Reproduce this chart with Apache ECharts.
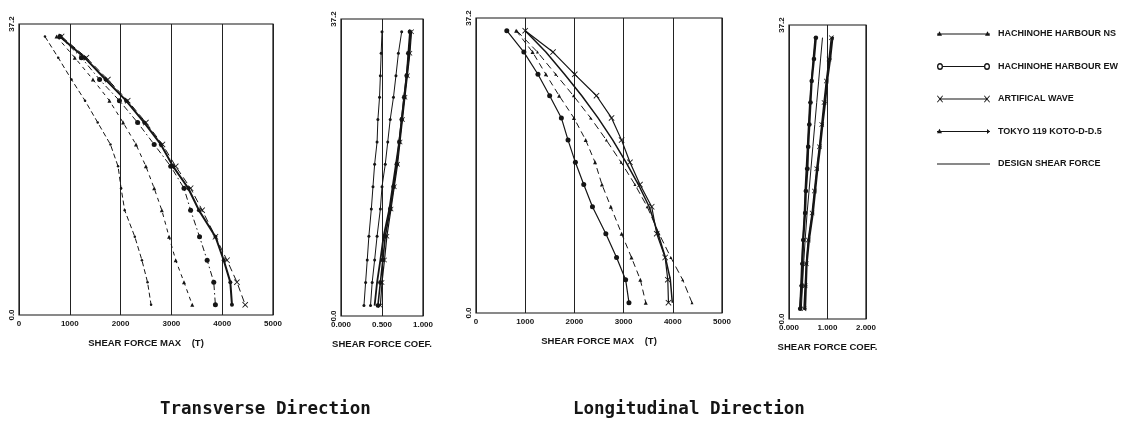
<!DOCTYPE html>
<html><head><meta charset="utf-8">
<script src="https://cdn.jsdelivr.net/npm/echarts@6/dist/echarts.min.js"></script>
<style>html,body{margin:0;padding:0;background:#fff}#c{width:1125px;height:423px}</style>
</head><body><div id="c"></div>
<script>
// Heights of the plotted story levels (top -> bottom), m
const levels = [35.6, 32.9, 30.1, 27.4, 24.6, 21.8, 19.0, 16.2, 13.4, 10.0, 7.0, 4.2, 1.3];
const seriesNames = ['HACHINOHE HARBOUR NS', 'HACHINOHE HARBOUR EW', 'ARTIFICAL WAVE', 'TOKYO 119 KOTO-D-D.5', 'DESIGN SHEAR FORCE'];
const panelTitles = ['Transverse Direction', 'Longitudinal Direction'];
const yTicks = [0, 37.2];

// Transverse direction, shear force max (t), top -> bottom
const transMaxNS     = [511, 772, 1033, 1300, 1550, 1800, 1950, 2010, 2080, 2280, 2420, 2530, 2600];
const transMaxEW     = [805, 1228, 1586, 1977, 2335, 2661, 2987, 3248, 3378, 3554, 3704, 3834, 3866];
const transMaxArt    = [838, 1326, 1749, 2140, 2498, 2824, 3085, 3378, 3606, 3867, 4095, 4290, 4453];
const transMaxTokyo  = [740, 1098, 1456, 1780, 2050, 2303, 2498, 2661, 2811, 2954, 3085, 3248, 3410];
const transMaxDesign = [805, 1293, 1704, 2108, 2466, 2792, 3033, 3332, 3541, 3867, 4030, 4160, 4192];

// Transverse direction, shear force coefficient
const transCoefNS     = [0.50, 0.49, 0.48, 0.47, 0.45, 0.44, 0.41, 0.39, 0.37, 0.34, 0.32, 0.30, 0.28];
const transCoefEW     = [0.84, 0.82, 0.80, 0.77, 0.74, 0.71, 0.68, 0.64, 0.60, 0.54, 0.51, 0.48, 0.45];
const transCoefArt    = [0.86, 0.84, 0.81, 0.78, 0.75, 0.72, 0.69, 0.65, 0.61, 0.56, 0.53, 0.50, 0.48];
const transCoefTokyo  = [0.74, 0.70, 0.67, 0.64, 0.60, 0.57, 0.54, 0.50, 0.48, 0.44, 0.41, 0.38, 0.36];
const transCoefDesign = [0.85, 0.83, 0.80, 0.77, 0.74, 0.71, 0.67, 0.63, 0.59, 0.52, 0.48, 0.44, 0.41];

// Longitudinal direction, shear force max (t)
const longMaxNS     = [830, 1250, 1620, 1980, 2330, 2650, 2950, 3230, 3480, 3720, 3960, 4200, 4390];
const longMaxEW     = [626, 973, 1259, 1497, 1735, 1871, 2020, 2190, 2367, 2639, 2857, 3041, 3109];
const longMaxArt    = [1000, 1565, 2007, 2449, 2755, 2959, 3129, 3333, 3571, 3673, 3844, 3898, 3912];
const longMaxTokyo  = [816, 1150, 1420, 1690, 1990, 2230, 2420, 2560, 2740, 2960, 3160, 3340, 3450];
const longMaxDesign = [1000, 1420, 1800, 2150, 2480, 2780, 3050, 3300, 3520, 3700, 3850, 3950, 3990];

// Longitudinal direction, shear force coefficient
const longCoefNS     = [0.68, 0.63, 0.58, 0.54, 0.51, 0.48, 0.45, 0.42, 0.40, 0.36, 0.33, 0.31, 0.28];
const longCoefEW     = [0.70, 0.65, 0.59, 0.56, 0.53, 0.50, 0.48, 0.44, 0.42, 0.37, 0.35, 0.33, 0.29];
const longCoefArt    = [1.10, 1.04, 0.97, 0.91, 0.85, 0.79, 0.72, 0.66, 0.60, 0.50, 0.45, 0.42, 0.39];
const longCoefTokyo  = [0.87, 0.82, 0.77, 0.72, 0.67, 0.62, 0.57, 0.52, 0.47, 0.42, 0.38, 0.35, 0.32];
const longCoefDesign = [1.13, 1.07, 0.99, 0.94, 0.87, 0.81, 0.74, 0.68, 0.62, 0.52, 0.46, 0.44, 0.42];

const panelData = [
  [transMaxNS, transMaxEW, transMaxArt, transMaxTokyo, transMaxDesign],
  [transCoefNS, transCoefEW, transCoefArt, transCoefTokyo, transCoefDesign],
  [longMaxNS, longMaxEW, longMaxArt, longMaxTokyo, longMaxDesign],
  [longCoefNS, longCoefEW, longCoefArt, longCoefTokyo, longCoefDesign]
];

const INK = '#151515';
const LBL = 'Liberation Sans Narrow, Arial Narrow, sans-serif';
const xPath = 'path://M0 1 L1 0 L5 4 L9 0 L10 1 L6 5 L10 9 L9 10 L5 6 L1 10 L0 9 L4 5 Z';

const grids = [
  {left: 19, top: 24, width: 254, height: 291},
  {left: 341, top: 19, width: 82, height: 297},
  {left: 476, top: 18, width: 246, height: 295},
  {left: 789, top: 25, width: 77, height: 294}
];
const xCfg = [
  {max: 5000, interval: 1000, name: 'SHEAR FORCE MAX    (T)', fmt: v => String(v)},
  {max: 1, interval: 0.5, name: 'SHEAR FORCE COEF.', fmt: v => v.toFixed(3)},
  {max: 5000, interval: 1000, name: 'SHEAR FORCE MAX    (T)', fmt: v => String(v)},
  {max: 2, interval: 1, name: 'SHEAR FORCE COEF.', fmt: v => v.toFixed(3)}
];
// per panel, per series: [lineType, width, symbol, symbolSize]
const styles = [
  [[[5,3],1,'circle',2.5], [[6,3,1.5,3],1,'circle',5], [[7,4],1,xPath,6], [[4,4],1,'triangle',4], ['solid',2,'circle',4]],
  [['solid',1,'circle',3], ['solid',1.6,'circle',4.5], ['solid',1.2,xPath,5], ['solid',1,'circle',3], ['solid',1.8,'none',0]],
  [[[7,4],1,'triangle',3], ['solid',1.2,'circle',5], ['solid',1.2,xPath,6], [[6,4],1,'triangle',4], ['solid',1.5,'none',0]],
  [['solid',1.5,'circle',3], ['solid',2,'circle',4.5], ['solid',1.5,xPath,5], ['solid',1,'none',0], ['solid',2,'circle',3]]
];

const series = [];
panelData.forEach((arrs, p) => {
  arrs.forEach((vals, s) => {
    const st = styles[p][s];
    series.push({
      type: 'line', name: seriesNames[s], xAxisIndex: p, yAxisIndex: p,
      data: vals.map((v, i) => [v, levels[i]]),
      color: INK,
      lineStyle: {color: INK, width: st[1], type: st[0]},
      itemStyle: {color: INK},
      symbol: st[2], symbolSize: st[3], showSymbol: st[2] !== 'none',
      silent: true, animation: false, z: s === 4 ? 3 : 2
    });
  });
});

// legend icon paths, 53 x 10 box
const corner = 'M0 0 L0.01 0 L0 0.01 Z M53 10 L52.99 10 L53 9.99 Z ';
function bar(a, b) { return `M${a} 4.5 L${b} 4.5 L${b} 5.5 L${a} 5.5 Z `; }
function ring(cx) {
  return `M${cx-3} 5 A3 3 0 1 1 ${cx+3} 5 A3 3 0 1 1 ${cx-3} 5 Z M${cx-1.7} 5 A1.7 1.7 0 1 0 ${cx+1.7} 5 A1.7 1.7 0 1 0 ${cx-1.7} 5 Z `;
}
function cross(x0) {
  const s = 6/10, y0 = 2;
  const pts = [[0,1],[1,0],[5,4],[9,0],[10,1],[6,5],[10,9],[9,10],[5,6],[1,10],[0,9],[4,5]];
  return 'M' + pts.map(p => `${(x0 + p[0]*s).toFixed(2)} ${(y0 + p[1]*s).toFixed(2)}`).join(' L') + ' Z ';
}
function tri(cx) { return `M${cx-2.5} 6.5 L${cx} 2.8 L${cx+2.5} 6.5 Z `; }
const legendIcons = [
  'path://' + corner + bar(0, 53) + tri(2.5) + tri(50.5),
  'path://' + corner + bar(6, 47) + ring(3) + ring(50),
  'path://' + corner + bar(3, 50) + cross(0) + cross(47),
  'path://' + corner + bar(0, 53) + tri(2.5) + `M50 3 L53 5 L50 7 Z `,
  'path://' + corner + bar(0, 53)
];

const option = {
  backgroundColor: '#fff',
  animation: false,
  title: [
    {text: panelTitles[0], left: 155, top: 395, textStyle: {fontFamily: 'DejaVu Sans Mono', fontWeight: 'bold', fontSize: 17.5, color: INK}},
    {text: panelTitles[1], left: 568, top: 395, textStyle: {fontFamily: 'DejaVu Sans Mono', fontWeight: 'bold', fontSize: 17.5, color: INK}}
  ],
  legend: {
    orient: 'vertical', left: 932, top: 23,
    itemWidth: 53, itemHeight: 12, itemGap: 20.5,
    symbolKeepAspect: false,
    selectedMode: false,
    itemStyle: {color: INK, borderWidth: 0},
    textStyle: {fontFamily: LBL, fontWeight: 'bold', fontSize: 9, color: INK, padding: [0, 0, 0, 3]},
    data: seriesNames.map((n, i) => ({name: n, icon: legendIcons[i]}))
  },
  grid: grids.map(g => Object.assign({show: true, borderColor: INK, borderWidth: 1.2, backgroundColor: 'transparent'}, g)),
  xAxis: xCfg.map((c, i) => ({
    type: 'value', gridIndex: i, min: 0, max: c.max, interval: c.interval,
    name: c.name, nameLocation: 'middle', nameGap: 23,
    nameTextStyle: {fontFamily: LBL, fontWeight: 'bold', fontSize: 9.5, color: INK},
    axisLine: {show: false}, axisTick: {show: false},
    axisLabel: {formatter: c.fmt, fontFamily: LBL, fontWeight: 'bold', fontSize: 8, color: INK, margin: 5},
    splitLine: {show: true, lineStyle: {color: '#222', width: 1}}
  })),
  yAxis: grids.map((g, i) => ({
    type: 'value', gridIndex: i, min: yTicks[0], max: yTicks[1], interval: yTicks[1],
    axisLine: {show: false}, axisTick: {show: false}, splitLine: {show: false},
    axisLabel: {rotate: 90, formatter: v => v.toFixed(1), showMinLabel: true, showMaxLabel: true,
      fontFamily: LBL, fontWeight: 'bold', fontSize: 8, color: INK, margin: 3}
  })),
  series: series
};
const chart = echarts.init(document.getElementById('c'), null, {renderer: 'canvas'});
chart.setOption(option);
</script></body></html>
